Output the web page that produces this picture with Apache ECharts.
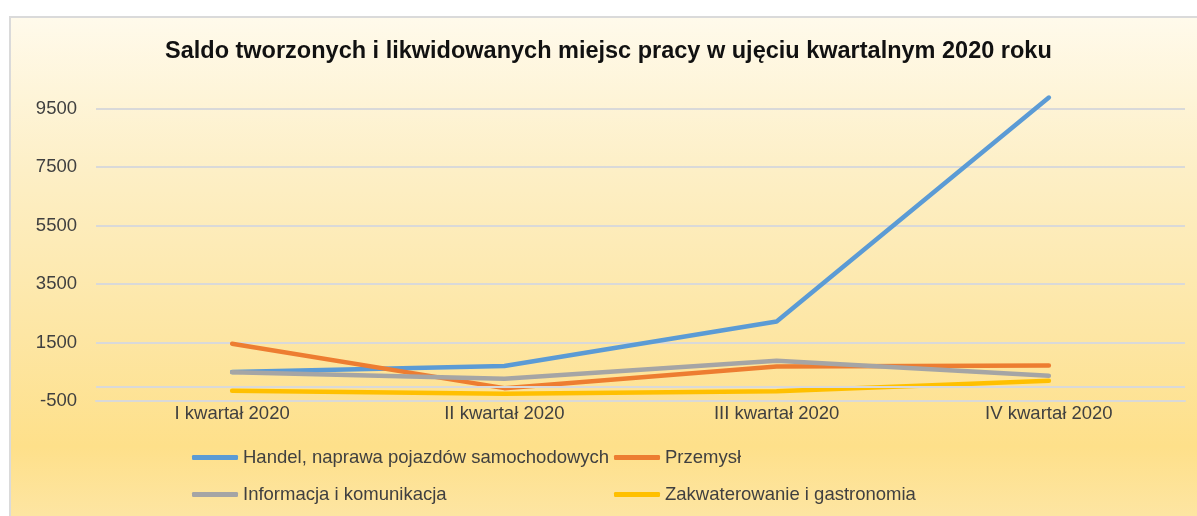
<!DOCTYPE html>
<html>
<head>
<meta charset="utf-8">
<script src="https://cdn.jsdelivr.net/npm/echarts@6/dist/echarts.min.js"></script>
<style>
  html, body {
    margin: 0;
    padding: 0;
    background: #fff;
    overflow: hidden;
  }
  .frame {
    position: absolute;
    left: 9px;
    top: 16px;
    width: 1186px;
    height: 510px;
    border-left: 2px solid #dadada;
    border-top: 2px solid #dadada;
    background: linear-gradient(to bottom, #fffaeb 0%, #fdefc6 30%, #fde6a4 62%, #fee08a 84%, #fde6a6 100%);
  }
  #chart {
    position: absolute;
    left: 0;
    top: 0;
    width: 1197px;
    height: 516px;
  }
</style>
</head>
<body>
<div class="frame"></div>
<div id="chart"></div>
<script>
const quarters = ['I kwartał 2020', 'II kwartał 2020', 'III kwartał 2020', 'IV kwartał 2020'];
const yTicks = [-500, 1500, 3500, 5500, 7500, 9500];

const handel = [490, 700, 2220, 9880];
const przemysl = [1460, -60, 680, 710];
const informacja = [480, 260, 880, 360];
const zakwaterowanie = [-150, -250, -170, 190];

const seriesNames = [
  'Handel, naprawa pojazdów samochodowych',
  'Przemysł',
  'Informacja i komunikacja',
  'Zakwaterowanie i gastronomia'
];
const seriesColors = ['#5b9bd5', '#ed7d31', '#a5a5a5', '#ffc000'];

const font = 'Liberation Sans, Arial, sans-serif';

const makeLine = (name, values, color, extra) => Object.assign({
  name: name,
  type: 'line',
  data: values,
  symbol: 'none',
  lineStyle: { width: 4.5, color: color, cap: 'round', join: 'round' },
  itemStyle: { color: color }
}, extra || {});

const chart = echarts.init(document.getElementById('chart'));

const legendBase = {
  orient: 'vertical',
  top: 448,
  itemGap: 18,
  itemWidth: 46,
  itemHeight: 5,
  icon: 'roundRect',
  padding: 0,
  textStyle: { fontFamily: font, fontSize: 18.5, color: '#404040' }
};

chart.setOption({
  animation: false,
  title: {
    text: 'Saldo tworzonych i likwidowanych miejsc pracy w ujęciu kwartalnym 2020 roku',
    left: 160,
    top: 35,
    textStyle: {
      fontFamily: font,
      fontSize: 23.5,
      fontWeight: 'bold',
      color: '#111'
    }
  },
  legend: [
    Object.assign({}, legendBase, { left: 192, data: [seriesNames[0], seriesNames[2]] }),
    Object.assign({}, legendBase, { left: 614, data: [seriesNames[1], seriesNames[3]] })
  ],
  grid: {
    left: 96,
    right: 12,
    top: 94,
    bottom: 115
  },
  xAxis: {
    type: 'category',
    data: quarters,
    boundaryGap: true,
    axisLine: { show: true, onZero: false, lineStyle: { color: '#d9d9d9', width: 2 } },
    axisTick: { show: false },
    axisLabel: {
      margin: 3,
      fontFamily: font,
      fontSize: 18.5,
      color: '#404040'
    }
  },
  yAxis: {
    type: 'value',
    min: -500,
    max: 10000,
    axisLine: { show: false },
    axisTick: { show: false, customValues: yTicks },
    axisLabel: {
      customValues: yTicks,
      formatter: v => String(v),
      margin: 19,
      fontFamily: font,
      fontSize: 18.5,
      color: '#404040'
    },
    splitLine: { show: true, lineStyle: { color: '#d9d9d9', width: 2 } }
  },
  series: [
    makeLine(seriesNames[0], handel, seriesColors[0], {
      markLine: {
        silent: true,
        symbol: 'none',
        label: { show: false },
        lineStyle: { color: '#d9d9d9', width: 2, type: 'solid' },
        data: [{ yAxis: 0 }]
      }
    }),
    makeLine(seriesNames[1], przemysl, seriesColors[1]),
    makeLine(seriesNames[2], informacja, seriesColors[2]),
    makeLine(seriesNames[3], zakwaterowanie, seriesColors[3])
  ]
});
</script>
</body>
</html>
